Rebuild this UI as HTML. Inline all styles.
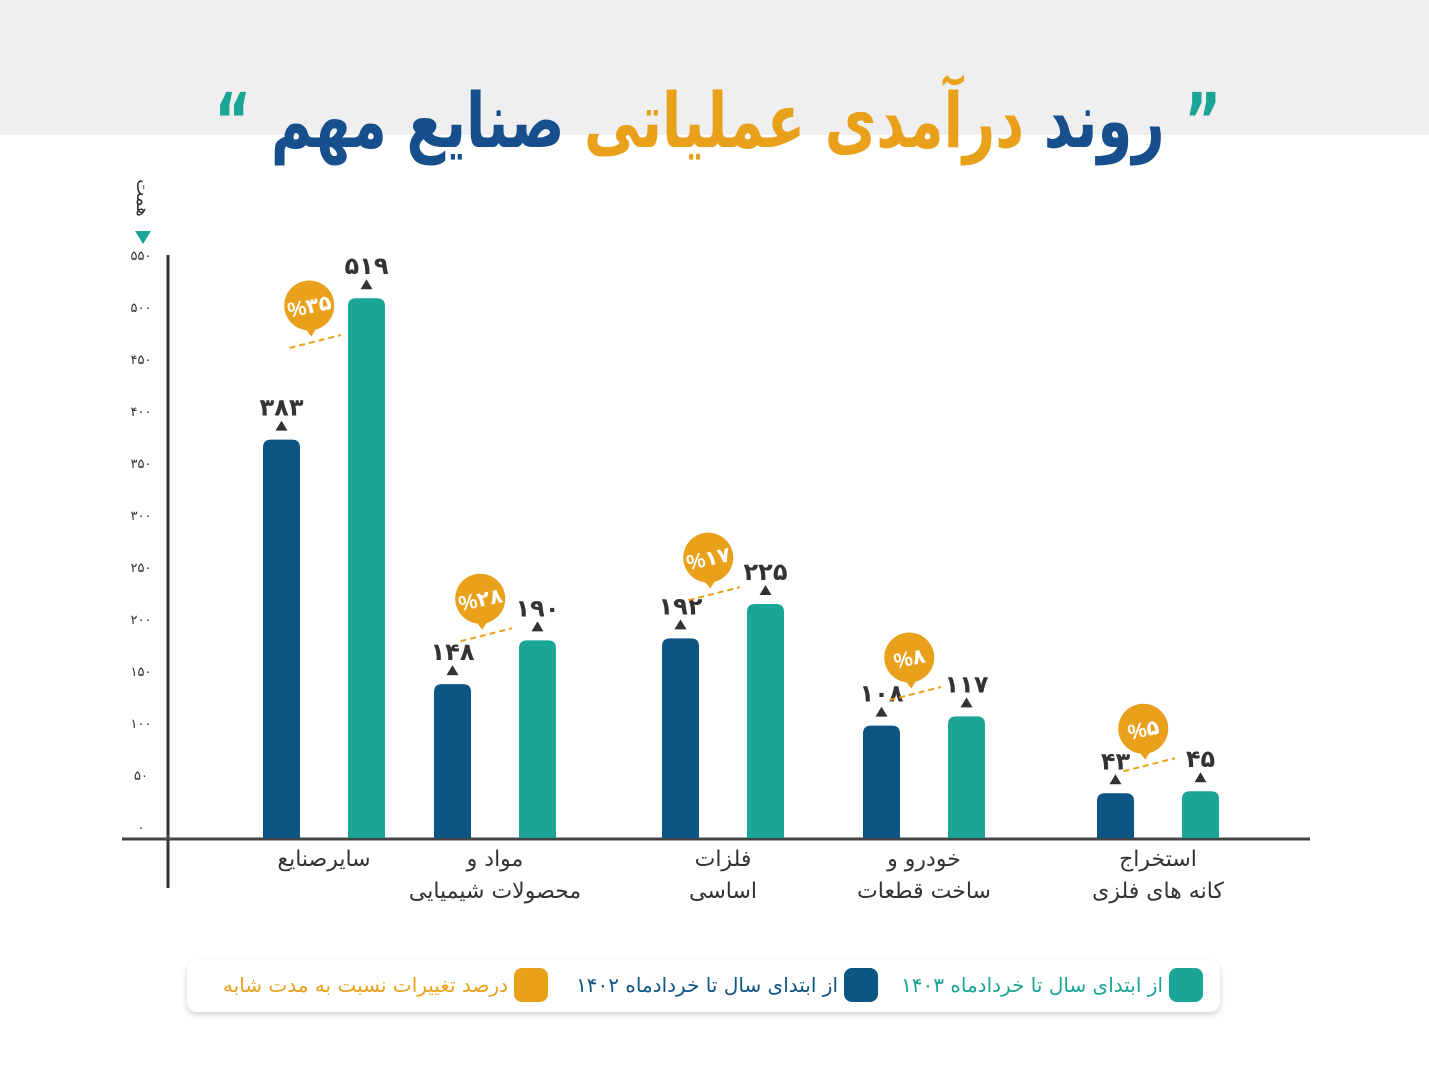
<!DOCTYPE html>
<html><head><meta charset="utf-8">
<style>
body{margin:0;width:1429px;height:1071px;background:#fff;overflow:hidden;font-family:"Liberation Sans","Noto Sans CJK SC","DejaVu Sans",sans-serif;}
#band{position:absolute;left:0;top:0;width:1429px;height:135px;background:#efefef;}
#title{position:absolute;left:0;top:76px;width:1429px;text-align:center;font-size:76px;font-weight:bold;direction:rtl;font-family:"DejaVu Sans",sans-serif;letter-spacing:-2px;transform:scaleX(0.74);transform-origin:727px 0;white-space:nowrap}
#legend{position:absolute;left:187px;top:960px;width:1033px;height:52px;background:#fff;border-radius:10px;box-shadow:0 3px 6px rgba(0,0,0,0.18);}
.lg{position:absolute;top:8px;height:34px;direction:rtl;font-size:20px;font-family:"DejaVu Sans",sans-serif;display:flex;align-items:center;gap:6px;white-space:nowrap}
.sw{width:34px;height:34px;border-radius:8px;display:inline-block}
</style></head><body>
<div id="band"></div>
<div id="title"><span style="color:#1aa596">”</span> <span style="color:#174f8c">روند</span> <span style="color:#e9a01a">درآمدی عملیاتی</span> <span style="color:#174f8c">صنایع مهم</span> <span style="color:#1aa596">“</span></div>
<svg id="chart" width="1429" height="1071" style="position:absolute;left:0;top:0"></svg>
<div id="legend">
 <div class="lg" style="right:17px;color:#1aa596"><span class="sw" style="background:#1aa596"></span><span>از ابتدای سال تا خردادماه ۱۴۰۳</span></div>
 <div class="lg" style="right:342px;color:#0d5582"><span class="sw" style="background:#0d5582"></span><span>از ابتدای سال تا خردادماه ۱۴۰۲</span></div>
 <div class="lg" style="right:672px;color:#e9a01a"><span class="sw" style="background:#e9a01a"></span><span>درصد تغییرات نسبت به مدت شابه</span></div>
</div>
<script>
const categories=[["سایرصنایع",""],["مواد و","محصولات شیمیایی"],["فلزات","اساسی"],["خودرو و","ساخت قطعات"],["استخراج","کانه های فلزی"]];
const values1402=[383,148,192,108,43];
const values1403=[519,190,225,117,45];
const changes=[35,28,17,8,5];
const yTicks=[0,50,100,150,200,250,300,350,400,450,500,550];
const NS="http://www.w3.org/2000/svg";
const svg=document.getElementById('chart');
const base=838,k=1.04;
const y=v=>base-v*k;
const groupX=[263,434,662,863,1097];
const bw=37,gap=85;
const fa=n=>String(n).replace(/\d/g,d=>"۰۱۲۳۴۵۶۷۸۹"[d]);
function mk(t,a){const e=document.createElementNS(NS,t);for(const x in a)e.setAttribute(x,a[x]);svg.appendChild(e);return e;}
function bar(x,v,c){const t=y(v),r=8;
 return mk('path',{d:`M${x},${base}V${t+r}Q${x},${t} ${x+r},${t}H${x+bw-r}Q${x+bw},${t} ${x+bw},${t+r}V${base}Z`,fill:c});}
let ax=mk('line',{x1:168,y1:255,x2:168,y2:888,stroke:'#333','stroke-width':3});

let bx=mk('line',{x1:122,y1:839,x2:1310,y2:839,stroke:'#444','stroke-width':3});

yTicks.forEach(v=>{const t=mk('text',{x:141,y:y(v)-6,'text-anchor':'middle','font-size':13,fill:'#333'});t.textContent=fa(v);
 });
let un=mk('text',{x:0,y:0,transform:'translate(137,198) rotate(90)','text-anchor':'middle','font-size':18,fill:'#333','font-family':'DejaVu Sans'});un.textContent='همت';

mk('path',{d:'M135,231L151,231L143,244Z',fill:'#1aa596'});
function valLabel(cx,v){const t=y(v);
 mk('path',{d:`M${cx-6},${t-9}L${cx+6},${t-9}L${cx},${t-19}Z`,fill:'#333'});
 const tx=mk('text',{x:cx,y:t-24,'text-anchor':'middle','font-size':24,'font-weight':'bold',fill:'#333'});tx.textContent=fa(v);
 }
categories.forEach((c,i)=>{
 const x1=groupX[i],x2=x1+gap;
 const b1=bar(x1,values1402[i],'#0d5582');
 const b2=bar(x2,values1403[i],'#1aa596');
 valLabel(x1+bw/2,values1402[i]);valLabel(x2+bw/2,values1403[i]);
 const ey=(y(values1402[i])+y(values1403[i]))/2-34,sy=ey+13;
 const lx1=x1+bw/2+8,lx2=x2-7;
 mk('line',{x1:lx1,y1:sy,x2:lx2,y2:ey,stroke:'#e9a01a','stroke-width':2,'stroke-dasharray':'6,4'});
 const mx=(lx1+lx2)/2-6,my=(sy+ey)/2-36;
 mk('path',{d:`M${mx-8},${my+18}L${mx+10},${my+18}L${mx+2},${my+31}Z`,fill:'#e9a01a'});
 const cc=mk('circle',{cx:mx,cy:my,r:25,fill:'#e9a01a'});
 const pt=mk('text',{x:mx,y:my+8,'text-anchor':'middle','font-size':21,'font-weight':'bold',fill:'#fff',transform:`rotate(-12 ${mx} ${my})`});pt.textContent='%'+fa(changes[i]);
 
 const cx=(x1+x2+bw)/2;
 c.forEach((line,j)=>{if(!line)return;const t=mk('text',{x:cx,y:866+j*32,'text-anchor':'middle','font-size':22,fill:'#333','font-family':'DejaVu Sans',direction:'rtl'});t.textContent=line;
  });
});
</script>
</body></html>
